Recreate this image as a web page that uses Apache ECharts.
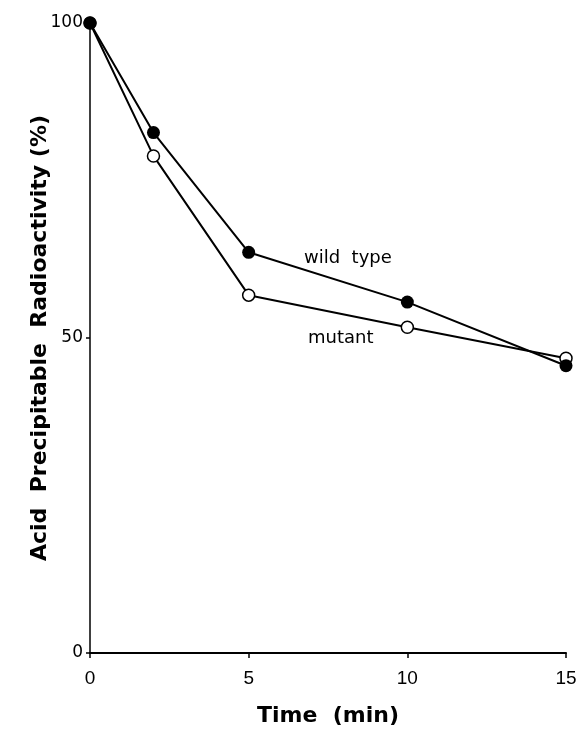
<!DOCTYPE html>
<html><head><meta charset="utf-8">
<script src="https://cdn.jsdelivr.net/npm/echarts@6/dist/echarts.min.js"></script>
<style>html,body{margin:0;padding:0;background:#fff}#c{width:582px;height:732px}</style>
</head><body><div id="c"></div>
<script>
const time = [0, 2, 5, 10, 15];
const wildType = [100, 82.6, 63.6, 55.7, 45.6];
const mutant = [100, 78.9, 56.8, 51.7, 46.8];
const xTicks = [0, 5, 10, 15];
const yTicks = [0, 50, 100];

const chart = echarts.init(document.getElementById('c'));
const font = 'Liberation Sans, Arial, Helvetica, sans-serif';
const wide = 'DejaVu Sans, Liberation Sans, sans-serif';
chart.setOption({
  animation: false,
  backgroundColor: '#fff',
  grid: {left: 90, right: 16, top: 23, bottom: 75},
  xAxis: {
    type: 'value', min: 0, max: 15, interval: 5,
    axisLine: {lineStyle: {color: '#000', width: 2}},
    axisTick: {show: true, length: 5, inside: false, lineStyle: {color: '#000', width: 1.5}},
    axisLabel: {color: '#000', fontSize: 19, fontFamily: font, margin: 16,
      formatter: v => xTicks.includes(v) ? String(v) : ''},
    splitLine: {show: false},
    name: 'Time  (min)', nameLocation: 'middle', nameGap: 52, nameMoveOverlap: false,
    nameTextStyle: {color: '#000', fontSize: 22, fontWeight: 'bold', fontFamily: wide}
  },
  yAxis: {
    type: 'value', min: 0, max: 100, interval: 50,
    axisLine: {lineStyle: {color: '#000', width: 1.5}},
    axisTick: {show: true, length: 4, lineStyle: {color: '#000', width: 1.5}},
    axisLabel: {color: '#000', fontSize: 17, fontFamily: wide, margin: 7,
      formatter: v => yTicks.includes(v) ? String(v) : ''},
    splitLine: {show: false},
    name: 'Acid  Precipitable  Radioactivity (%)', nameLocation: 'middle', nameGap: 39, nameMoveOverlap: false,
    nameTextStyle: {color: '#000', fontSize: 22, fontWeight: 'bold', fontFamily: wide}
  },
  series: [
    {
      name: 'mutant', type: 'line', data: time.map((t, i) => [t, mutant[i]]),
      symbol: 'circle', symbolSize: 12, showAllSymbol: true,
      lineStyle: {color: '#000', width: 2},
      itemStyle: {color: '#fff', borderColor: '#000', borderWidth: 1.5},
      z: 2
    },
    {
      name: 'wild type', type: 'line', data: time.map((t, i) => [t, wildType[i]]),
      symbol: 'circle', symbolSize: 13, showAllSymbol: true,
      lineStyle: {color: '#000', width: 2},
      itemStyle: {color: '#000', borderColor: '#000', borderWidth: 0},
      z: 3
    }
  ],
  graphic: [
    {type: 'text', left: 304, top: 249, style: {text: 'wild  type', fontSize: 18, fontFamily: wide, fill: '#000'}},
    {type: 'text', left: 308, top: 329, style: {text: 'mutant', fontSize: 18, fontFamily: wide, fill: '#000'}}
  ]
});
</script></body></html>
